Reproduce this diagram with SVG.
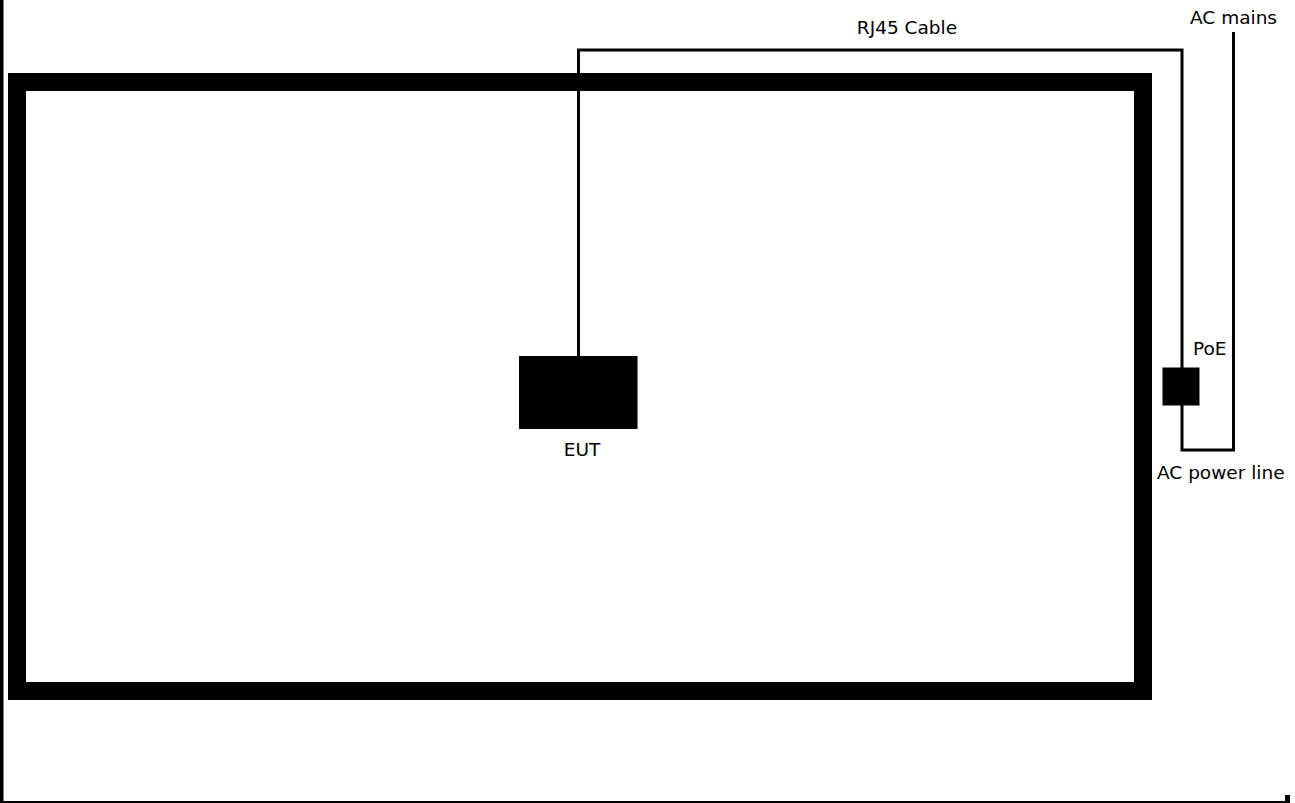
<svg xmlns="http://www.w3.org/2000/svg" width="1295" height="803" viewBox="0 0 1295 803">
<style>
text{font-family:"DejaVu Sans",Verdana,sans-serif;font-size:18.5px;fill:#000}
.cable{fill:none;stroke:#000;stroke-width:3}
</style>
<rect width="1295" height="803" fill="#fff"/>
<g id="frame">
<rect x="0" y="0" width="3.5" height="803" fill="#000"/>
<rect x="0" y="801" width="1286" height="2" fill="#000"/>
<rect x="1285" y="795" width="5" height="8" fill="#000"/>
</g>
<g id="table">
<rect x="17" y="82" width="1126" height="609" fill="none" stroke="#000" stroke-width="18"/>
</g>
<g id="connectors">
<polyline class="cable" points="578.5,356 578.5,50 1182,50 1182,368"/>
<polyline class="cable" points="1182,405 1182,450 1233.5,450 1233.5,32"/>
</g>
<g id="eut">
<rect x="519" y="356" width="118.5" height="73" fill="#000"/>
<text x="582" y="456" text-anchor="middle">EUT</text>
</g>
<g id="poe">
<rect x="1162.5" y="367.5" width="37" height="38" fill="#000"/>
<text x="1193" y="355">PoE</text>
</g>
<g id="labels">
<text x="907" y="34" text-anchor="middle">RJ45 Cable</text>
<text x="1190" y="24">AC mains</text>
<text x="1157" y="479">AC power line</text>
</g>
</svg>
